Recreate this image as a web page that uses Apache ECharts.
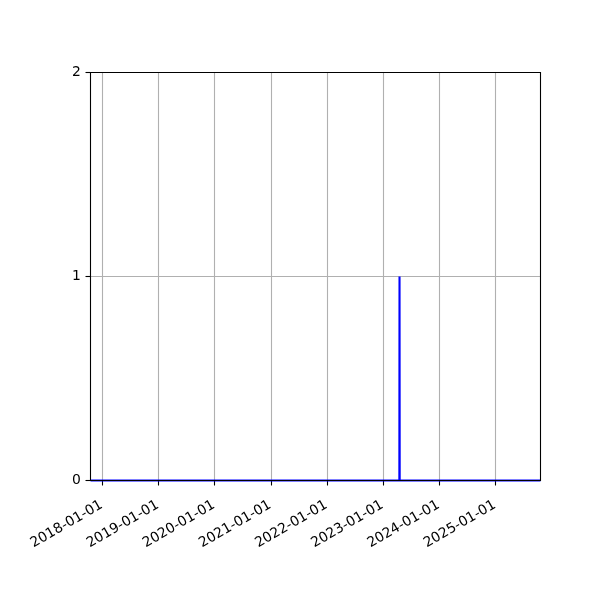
<!DOCTYPE html>
<html>
<head>
<meta charset="utf-8">
<script src="https://cdn.jsdelivr.net/npm/echarts@6/dist/echarts.min.js"></script>
<style>html,body{margin:0;padding:0;background:#fff}#c{width:600px;height:600px}</style>
</head>
<body>
<div id="c"></div>
<script>
// data
var dates = ['2017-10-15', '2023-04-16', '2023-04-17', '2023-04-18', '2025-10-20'];
var values = [0, 0, 1, 0, 0];
var xTickLabels = ['2018-01-01', '2019-01-01', '2020-01-01', '2021-01-01', '2022-01-01', '2023-01-01', '2024-01-01', '2025-01-01'];
var yTicks = [0, 1, 2];

function ts(s) { return new Date(s + 'T00:00:00').getTime(); }
var xTickValues = xTickLabels.map(ts);
var seriesData = dates.map(function (d, i) { return [ts(d), values[i]]; });
function fmt(v) {
  var d = new Date(v);
  var p = function (n) { return (n < 10 ? '0' : '') + n; };
  return d.getFullYear() + '-' + p(d.getMonth() + 1) + '-' + p(d.getDate());
}

var chart = echarts.init(document.getElementById('c'), null, { renderer: 'canvas' });
var font = 'DejaVu Sans';
chart.setOption({
  animation: false,
  backgroundColor: '#fff',
  grid: {
    left: 90.5, right: 59.5, top: 72.5, bottom: 119.5, z: 3,
    show: true, borderColor: '#000', borderWidth: 1.1, backgroundColor: 'transparent',
    outerBoundsMode: 'none'
  },
  xAxis: {
    type: 'value',
    scale: true,
    min: ts(dates[0]),
    max: ts(dates[dates.length - 1]),
    axisLine: { show: false, onZero: false },
    axisTick: { show: true, inside: false, length: 5, lineStyle: { color: '#000', width: 1.1 }, customValues: xTickValues },
    axisLabel: {
      customValues: xTickValues,
      formatter: function (v) { return fmt(v); },
      rotate: 30, align: 'right', verticalAlign: 'top',
      padding: [0, 5, 0, 0],
      color: '#000', fontFamily: font, fontSize: 13.9, margin: 15,
      hideOverlap: false
    },
    splitLine: { show: true, lineStyle: { color: '#b0b0b0', width: 1.1 } }
  },
  yAxis: {
    type: 'value',
    min: 0, max: 2, interval: 1,
    axisLine: { show: false },
    axisTick: { show: true, inside: false, length: 5, lineStyle: { color: '#000', width: 1.1 }, customValues: yTicks },
    axisLabel: { customValues: yTicks, color: '#000', fontFamily: font, fontSize: 13.9, margin: 9.7 },
    splitLine: { show: true, lineStyle: { color: '#b0b0b0', width: 1.1 } }
  },
  series: [{
    type: 'line',
    data: seriesData,
    showSymbol: false,
    symbol: 'none',
    lineStyle: { color: '#0000ff', width: 2.1 },
    itemStyle: { color: '#0000ff' },
    clip: false,
    z: 2
  }]
});
</script>
</body>
</html>
